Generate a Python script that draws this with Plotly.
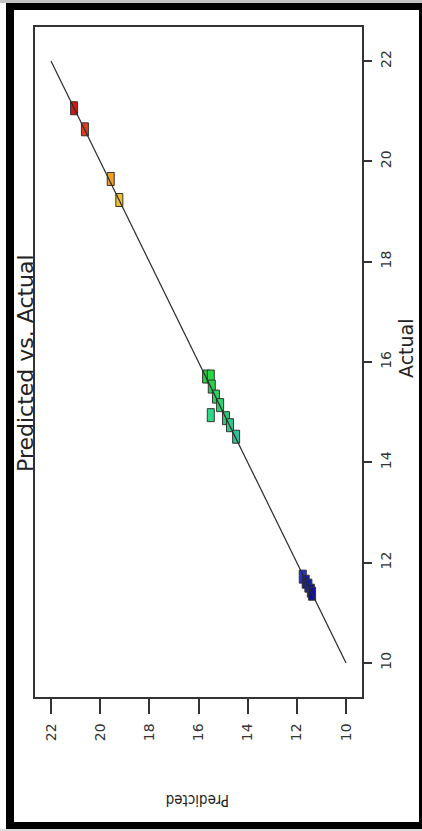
import plotly.graph_objects as go

# Predicted vs. actual response values (horizontal axis = Predicted, vertical = Actual)
predicted = [21.06, 20.62, 19.57, 19.22,
             15.69, 15.50, 15.46, 15.29, 15.12, 15.50, 14.88, 14.72, 14.47,
             11.76, 11.64, 11.53, 11.43, 11.38]
actual = [21.06, 20.64, 19.65, 19.23,
          15.71, 15.71, 15.51, 15.31, 15.14, 14.94, 14.88, 14.74, 14.51,
          11.72, 11.62, 11.54, 11.44, 11.38]
point_colors = ["#d01818", "#e0401c", "#f0a020", "#f0c030",
                "#22d040", "#2ad844", "#28d050", "#2ad060", "#30d070", "#30d888",
                "#2cc878", "#30c888", "#30c098",
                "#2434c4", "#1818a8", "#1420a0", "#101890", "#1010a0"]
tick_values = [10, 12, 14, 16, 18, 20, 22]
ref_line = [10, 22]

W, H = 422, 831
L, R, T, B = 35, 362, 27, 697  # plot area in pixels


def px(x):
    return (x - L) / (R - L)


def py(y):
    return (B - y) / (B - T)


fig = go.Figure()

# 1:1 reference line
fig.add_trace(go.Scatter(x=ref_line, y=ref_line, mode="lines",
                         line=dict(color="#2a2a2a", width=1.2),
                         hoverinfo="skip", showlegend=False))

shapes = []
# outer frame
shapes.append(dict(type="rect", xref="paper", yref="paper", layer="below",
                   x0=px(0), x1=px(W), y0=py(0), y1=py(3),
                   fillcolor="#c4c4c4", line=dict(width=0)))
shapes.append(dict(type="rect", xref="paper", yref="paper", layer="below",
                   x0=px(0), x1=px(W), y0=py(829), y1=py(H),
                   fillcolor="#dcdcdc", line=dict(width=0)))
shapes.append(dict(type="rect", xref="paper", yref="paper", layer="below",
                   x0=px(6), x1=px(W), y0=py(829), y1=py(3),
                   fillcolor="#000000", line=dict(width=0)))
shapes.append(dict(type="rect", xref="paper", yref="paper", layer="below",
                   x0=px(14), x1=px(419), y0=py(822), y1=py(10),
                   fillcolor="#ffffff", line=dict(width=0)))

# design points as small boxes anchored on their data values
for p, a, c in zip(predicted, actual, point_colors):
    shapes.append(dict(type="rect", xref="x", yref="y", layer="below",
                       xsizemode="pixel", ysizemode="pixel",
                       xanchor=p, yanchor=a,
                       x0=-3.5, x1=3.5, y0=-6.5, y1=6.5,
                       fillcolor=c, line=dict(color="#333333", width=1)))

annotations = [
    dict(text="Predicted vs. Actual", textangle=-90, showarrow=False,
         xref="paper", yref="paper", x=px(25), y=py(363),
         xanchor="center", yanchor="middle",
         font=dict(family="DejaVu Sans", size=22, color="#222222")),
    dict(text="Actual", textangle=-90, showarrow=False,
         xref="paper", yref="paper", x=px(406), y=py(348),
         xanchor="center", yanchor="middle",
         font=dict(family="DejaVu Sans", size=19, color="#222222")),
    dict(text="Predicted", textangle=180, showarrow=False,
         xref="paper", yref="paper", x=px(197.5), y=py(800),
         xanchor="center", yanchor="middle",
         font=dict(family="DejaVu Sans Condensed, Liberation Sans Narrow, DejaVu Sans",
                   size=15, color="#222222")),
]

fig.update_layout(
    width=W, height=H,
    margin=dict(l=L, r=W - R, t=T, b=H - B, pad=0),
    paper_bgcolor="#ffffff", plot_bgcolor="#ffffff",
    showlegend=False,
    shapes=shapes,
    annotations=annotations,
    xaxis=dict(range=[22.65, 9.35], tickvals=tick_values,
               ticktext=[str(v) for v in tick_values],
               showgrid=False, zeroline=False,
               showline=True, linecolor="#333333", linewidth=1.5, mirror=True,
               ticks="outside", ticklen=15, tickwidth=1.5, tickcolor="#333333",
               tickangle=-90, ticklabelstandoff=4,
               tickfont=dict(family="DejaVu Sans", size=14, color="#333333")),
    yaxis=dict(range=[9.32, 22.68], tickvals=tick_values,
               ticktext=[str(v) for v in tick_values], side="right",
               showgrid=False, zeroline=False,
               showline=True, linecolor="#333333", linewidth=1.5, mirror=True,
               ticks="outside", ticklen=8, tickwidth=1.5, tickcolor="#333333",
               tickangle=-90, ticklabelstandoff=2,
               tickfont=dict(family="DejaVu Sans", size=14, color="#333333")),
)

fig.write_html("out.html")
